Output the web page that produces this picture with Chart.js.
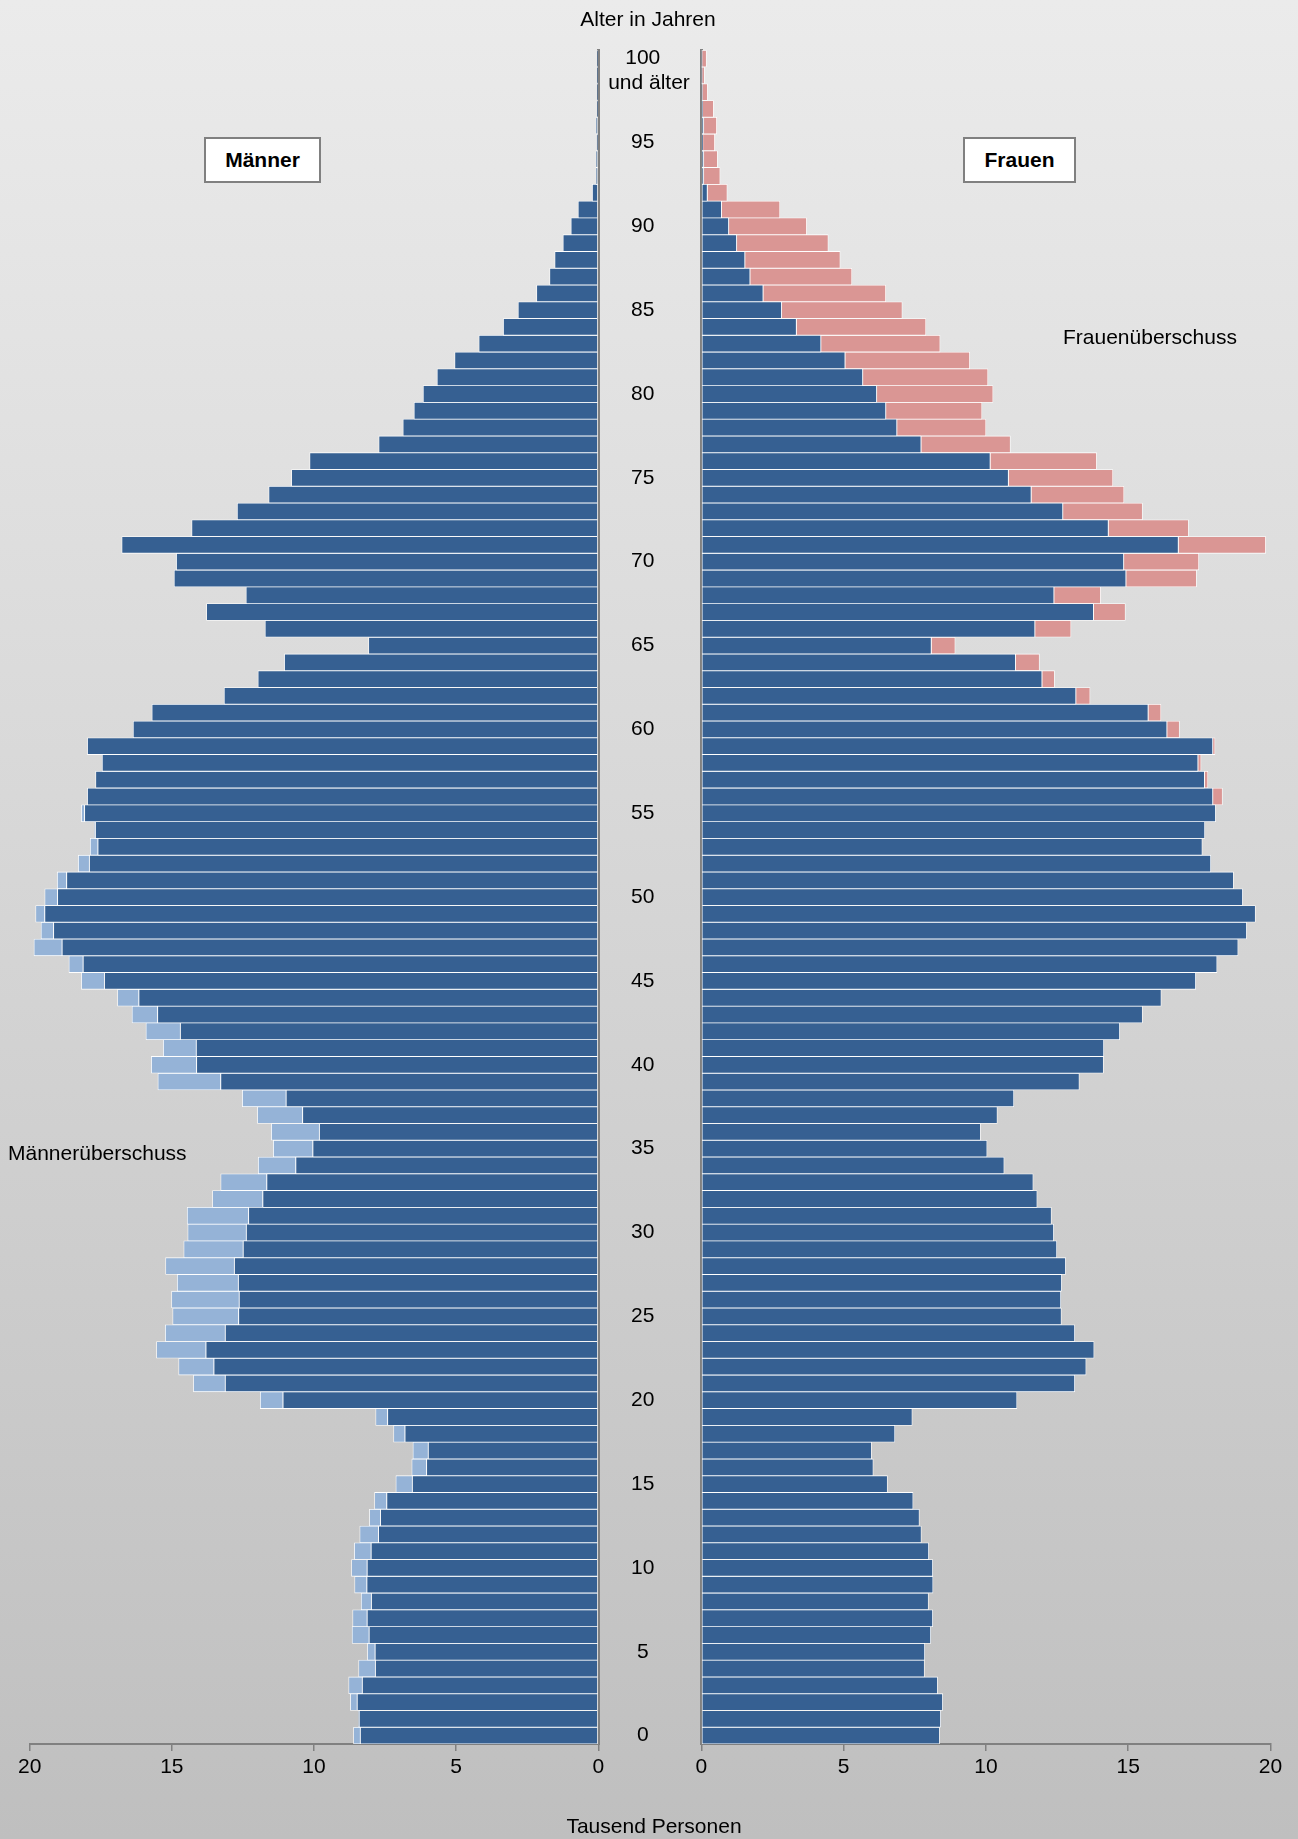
<!DOCTYPE html>
<html lang="de">
<head>
<meta charset="utf-8">
<title>Altersaufbau</title>
<script src="https://cdn.jsdelivr.net/npm/chart.js@4.4.1/dist/chart.umd.min.js"></script>
<style>
  html, body { margin: 0; padding: 0; }
  body {
    width: 1298px; height: 1839px; position: relative; overflow: hidden;
    background: linear-gradient(to bottom, #ebebeb 0%, #bfbfbf 100%);
    font-family: "Liberation Sans", Arial, sans-serif;
    color: #000;
  }
  canvas { position: absolute; left: 0; top: 0; }
  .txt { position: absolute; font-size: 21px; line-height: 24px; white-space: nowrap; }
  .mitte { transform: translateX(-50%); }
  .box {
    position: absolute; background: #fff; border: 2px solid #808080; box-sizing: border-box;
    font-weight: bold; font-size: 21px; line-height: 41px; text-align: center;
  }
</style>
</head>
<body>
<canvas id="maennerChart" width="1298" height="1839"></canvas>
<canvas id="frauenChart" width="1298" height="1839"></canvas>

<div class="txt mitte" style="left:648px; top:7px;">Alter in Jahren</div>
<div class="txt mitte" style="left:649px; top:70px;">und älter</div>
<div class="box" style="left:204px; top:137px; width:117px; height:46px;">Männer</div>
<div class="box" style="left:963px; top:137px; width:113px; height:46px;">Frauen</div>
<div class="txt" style="left:1063px; top:325px;">Frauenüberschuss</div>
<div class="txt" style="left:8px; top:1141px;">Männerüberschuss</div>
<div class="txt mitte" style="left:654px; top:1814px;">Tausend Personen</div>

<script>
// Alter 0 bis 100 (100 = "100 und älter"), Werte in Tausend Personen
var alter = Array.from({ length: 101 }, function (_, i) { return String(i); });
var beschrifteteAlter = ['0', '5', '10', '15', '20', '25', '30', '35', '40', '45', '50',
    '55', '60', '65', '70', '75', '80', '85', '90', '95', '100'];
var achsenWerte = [0, 5, 10, 15, 20];

var maenner = [
    8.61, 8.43, 8.72, 8.78, 8.43, 8.12, 8.66, 8.64, 8.34, 8.57,
    8.68, 8.58, 8.39, 8.05, 7.87, 7.12, 6.56, 6.52, 7.20, 7.83,
    11.89, 14.24, 14.76, 15.54, 15.23, 14.97, 15.01, 14.81, 15.22, 14.58,
    14.44, 14.46, 13.57, 13.28, 11.96, 11.43, 11.50, 11.99, 12.52, 15.49,
    15.72, 15.30, 15.91, 16.40, 16.91, 18.18, 18.62, 19.85, 19.60, 19.79,
    19.47, 19.03, 18.29, 17.87, 17.72, 18.18, 17.97, 17.68, 17.45, 17.97,
    16.36, 15.70, 13.16, 11.97, 11.04, 8.08, 11.72, 13.78, 12.39, 14.92,
    14.84, 16.76, 14.30, 12.70, 11.59, 10.79, 10.15, 7.72, 6.87, 6.48,
    6.16, 5.67, 5.05, 4.20, 3.34, 2.82, 2.17, 1.71, 1.53, 1.24,
    0.96, 0.71, 0.21, 0.08, 0.08, 0.05, 0.08, 0.04, 0.03, 0.02, 0.02
];

var frauen = [
    8.37, 8.41, 8.48, 8.30, 7.84, 7.85, 8.06, 8.13, 7.98, 8.14,
    8.13, 7.99, 7.73, 7.66, 7.44, 6.54, 6.04, 5.98, 6.80, 7.41,
    11.09, 13.12, 13.52, 13.80, 13.12, 12.65, 12.63, 12.66, 12.80, 12.49,
    12.38, 12.30, 11.80, 11.66, 10.64, 10.04, 9.81, 10.40, 10.98, 13.28,
    14.13, 14.14, 14.70, 15.50, 16.16, 17.37, 18.12, 18.86, 19.16, 19.47,
    19.02, 18.70, 17.90, 17.60, 17.69, 18.07, 18.31, 17.80, 17.56, 18.05,
    16.80, 16.15, 13.66, 12.41, 11.88, 8.92, 12.99, 14.90, 14.03, 17.40,
    17.48, 19.83, 17.12, 15.50, 14.85, 14.46, 13.89, 10.86, 10.00, 9.86,
    10.25, 10.07, 9.43, 8.39, 7.89, 7.06, 6.48, 5.29, 4.88, 4.46,
    3.70, 2.76, 0.91, 0.66, 0.57, 0.47, 0.54, 0.43, 0.22, 0.11, 0.18
];

// gemeinsamer Teil und Ueberschuss je Geschlecht
var gemeinsam = maenner.map(function (m, i) { return Math.min(m, frauen[i]); });
var maennerUeberschuss = maenner.map(function (m, i) { return Math.max(0, m - frauen[i]); });
var frauenUeberschuss = frauen.map(function (f, i) { return Math.max(0, f - maenner[i]); });

var DUNKELBLAU = '#366092';
var HELLBLAU = '#95b3d7';
var ROSA = '#da9694';
var ACHSE = '#808080';

Chart.defaults.font.family = "'Liberation Sans', Arial, sans-serif";
Chart.defaults.font.size = 21;
Chart.defaults.color = '#000';

function balken(werte, farbe) {
    return {
        data: werte,
        backgroundColor: farbe,
        borderColor: '#ffffff',
        borderWidth: 0.8,
        borderSkipped: false,
        barPercentage: 1,
        categoryPercentage: 1
    };
}

function xAchse(umgekehrt) {
    return {
        stacked: true,
        reverse: umgekehrt,
        min: 0,
        max: 20,
        afterBuildTicks: function (scale) {
            scale.ticks = achsenWerte.map(function (v) { return { value: v }; });
        },
        ticks: { padding: 4 },
        grid: { display: true, drawOnChartArea: false, drawTicks: true, tickLength: 7, color: ACHSE, lineWidth: 1.5 },
        border: { display: true, color: ACHSE, width: 2 },
        afterFit: function (scale) { scale.height = 40; }
    };
}

var gemeinsameOptionen = {
    indexAxis: 'y',
    responsive: false,
    animation: false,
    events: [],
    plugins: { legend: { display: false }, tooltip: { enabled: false } }
};

document.addEventListener('DOMContentLoaded', function () {
    if (document.getElementById('maennerChart')) {
        var ctx = document.getElementById('maennerChart').getContext('2d');
        new Chart(ctx, {
            type: 'bar',
            data: {
                labels: alter,
                datasets: [balken(gemeinsam, DUNKELBLAU), balken(maennerUeberschuss, HELLBLAU)]
            },
            options: Object.assign({}, gemeinsameOptionen, {
                layout: { padding: { left: 29.7, right: 699.7, top: 50.2, bottom: 55 } },
                scales: {
                    x: xAchse(true),
                    y: {
                        stacked: true,
                        reverse: true,
                        position: 'right',
                        ticks: { display: false },
                        grid: { display: false },
                        border: { display: true, color: ACHSE, width: 3 },
                        afterFit: function (scale) { scale.width = 0; }
                    }
                }
            })
        });
    }

    if (document.getElementById('frauenChart')) {
        var ctx = document.getElementById('frauenChart').getContext('2d');
        new Chart(ctx, {
            type: 'bar',
            data: {
                labels: alter,
                datasets: [balken(gemeinsam, DUNKELBLAU), balken(frauenUeberschuss, ROSA)]
            },
            options: Object.assign({}, gemeinsameOptionen, {
                layout: { padding: { left: 598.3, right: 27.5, top: 50.2, bottom: 55 } },
                scales: {
                    x: xAchse(false),
                    y: {
                        stacked: true,
                        reverse: true,
                        position: 'left',
                        ticks: {
                            autoSkip: false,
                            crossAlign: 'center',
                            padding: 33,
                            callback: function (value) {
                                var a = alter[value];
                                return beschrifteteAlter.indexOf(a) >= 0 ? a : '';
                            }
                        },
                        grid: { display: false },
                        border: { display: true, color: ACHSE, width: 3 },
                        afterFit: function (scale) { scale.width = 103; }
                    }
                }
            })
        });
    }
});
</script>
</body>
</html>
